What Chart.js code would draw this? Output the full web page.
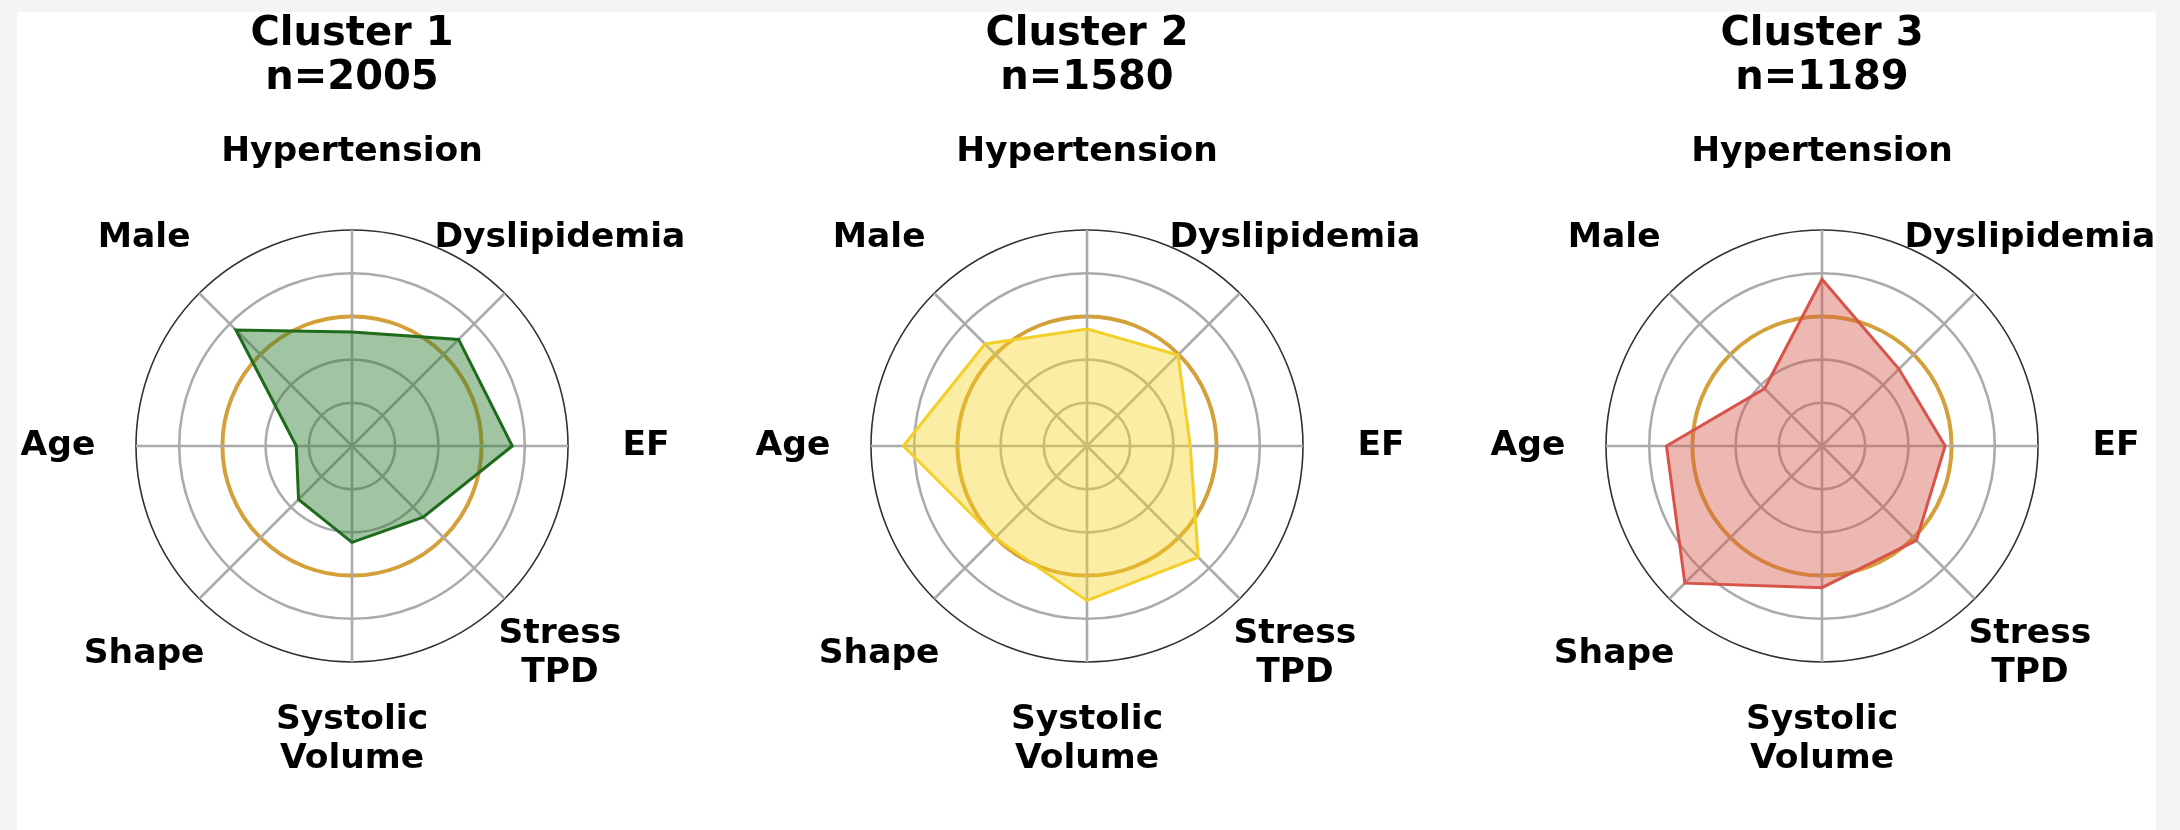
<!DOCTYPE html>
<html>
<head>
<meta charset="utf-8">
<script src="https://cdn.jsdelivr.net/npm/chart.js@4.4.1/dist/chart.umd.min.js"></script>
<style>
  html, body { margin: 0; padding: 0; }
  body { width: 2180px; height: 830px; background: #f4f4f4; position: relative; overflow: hidden; }
  #sheet { position: absolute; left: 17px; top: 12px; width: 2139px; height: 818px; background: #ffffff; }
  canvas { position: absolute; top: 0; }
</style>
</head>
<body>
<div id="sheet"></div>
<canvas id="c1" width="700" height="830" style="left:2px;width:700px;height:830px"></canvas>
<canvas id="c2" width="700" height="830" style="left:737px;width:700px;height:830px"></canvas>
<canvas id="c3" width="700" height="830" style="left:1472px;width:700px;height:830px"></canvas>
<script>
// ---- data ----
const categories = [
  'Hypertension', 'Dyslipidemia', 'EF', ['Stress', 'TPD'],
  ['Systolic', 'Volume'], 'Shape', 'Age', 'Male'
];
const clusterNames = ['Cluster 1', 'Cluster 2', 'Cluster 3'];
const clusterSizes = [2005, 1580, 1189];
const cluster1Values = [2.64, 3.49, 3.71, 2.33, 2.23, 1.75, 1.29, 3.80];
const cluster2Values = [2.71, 2.98, 2.39, 3.64, 3.58, 3.01, 4.25, 3.34];
const cluster3Values = [3.86, 2.52, 2.85, 3.09, 3.28, 4.49, 3.60, 1.88];
const scaleMax = 5;
const referenceLevel = 3;

// ---- styles ----
const seriesStyles = [
  { line: '#1f6b1c', fill: 'rgba(46,125,50,0.45)' },
  { line: '#f3cf2a', fill: 'rgba(245,211,39,0.42)' },
  { line: '#d8544a', fill: 'rgba(214,86,72,0.42)' }
];
const FONT = "'DejaVu Sans', sans-serif";

const centeredLabels = {
  id: 'centeredLabels',
  afterDraw(chart) {
    const s = chart.scales.r;
    const ctx = chart.ctx;
    ctx.save();
    ctx.font = 'bold 34.5px ' + FONT;
    ctx.fillStyle = '#000';
    ctx.textAlign = 'center';
    ctx.textBaseline = 'middle';
    const lh = 39;
    chart.data.labels.forEach((lab, i) => {
      const lines = Array.isArray(lab) ? lab : [lab];
      const p = s.getPointPosition(i, s.drawingArea + 78);
      const y0 = p.y - (lines.length - 1) * lh / 2;
      lines.forEach((t, k) => ctx.fillText(t, p.x, y0 + k * lh));
    });
    ctx.restore();
  }
};

function makeChart(id, idx, values) {
  const st = seriesStyles[idx];
  return new Chart(document.getElementById(id), {
    type: 'radar',
    data: {
      labels: categories,
      datasets: [{
        data: values,
        borderColor: st.line,
        backgroundColor: st.fill,
        borderWidth: 3,
        pointRadius: 0,
        fill: true,
        tension: 0
      }]
    },
    options: {
      responsive: false,
      animation: false,
      devicePixelRatio: 1,
      layout: { padding: { left: 134, right: 134, top: 0, bottom: 167 } },
      plugins: {
        legend: { display: false },
        tooltip: { enabled: false },
        title: {
          display: true,
          text: [clusterNames[idx], 'n=' + clusterSizes[idx]],
          color: '#000',
          font: { family: FONT, size: 40, weight: 'bold', lineHeight: 1.1 },
          padding: { top: 13, bottom: 129 }
        }
      },
      scales: {
        r: {
          min: 0,
          max: scaleMax,
          ticks: { display: false, stepSize: 1 },
          pointLabels: { display: false },
          grid: {
            circular: true,
            color: (c) => c.tick && c.tick.value === referenceLevel ? '#d4a03a'
                        : (c.tick && c.tick.value === scaleMax ? '#303030' : '#ababab'),
            lineWidth: (c) => c.tick && c.tick.value === referenceLevel ? 4
                        : (c.tick && c.tick.value === scaleMax ? 1.6 : 2.6)
          },
          angleLines: { display: true, color: '#ababab', lineWidth: 2.6 }
        }
      }
    },
    plugins: [centeredLabels]
  });
}

makeChart('c1', 0, cluster1Values);
makeChart('c2', 1, cluster2Values);
makeChart('c3', 2, cluster3Values);
</script>
</body>
</html>
